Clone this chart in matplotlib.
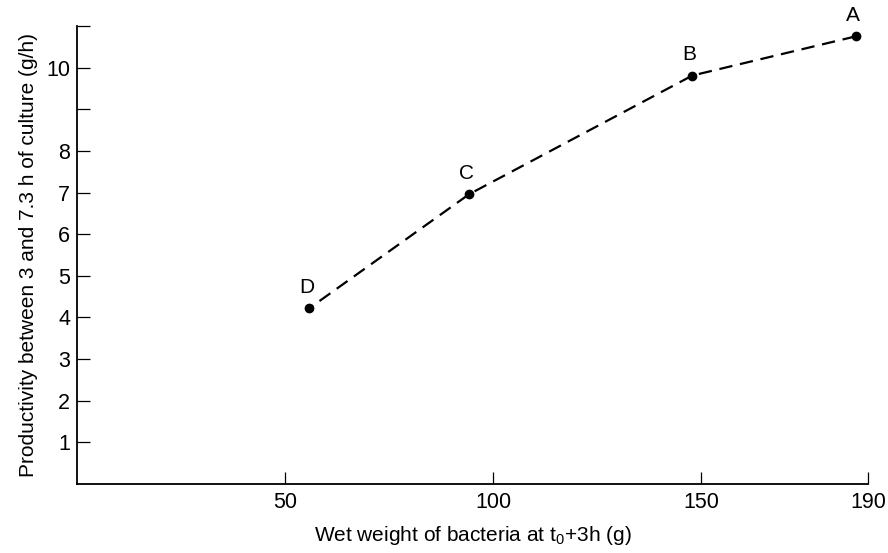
import matplotlib
matplotlib.use('Agg')
import matplotlib.pyplot as plt

plt.rcParams['font.family'] = ['Liberation Sans', 'DejaVu Sans']

labels = ['A', 'B', 'C', 'D']
weight = [187, 147.8, 94.2, 55.8]
productivity = [10.75, 9.81, 6.96, 4.22]

xticks = [50, 100, 150, 190]
yticks = [1, 2, 3, 4, 5, 6, 7, 8, 9, 10, 11]
ylabels = ['1', '2', '3', '4', '5', '6', '7', '8', '', '10', '']

fig = plt.figure(figsize=(8.88, 5.53), dpi=100)
ax = fig.add_axes([0.0867, 0.1248, 0.8908, 0.8282])

ax.plot(weight, productivity, color='black', ls=(0, (6, 3.5)), lw=1.6,
        marker='o', ms=6, mfc='black', mec='black')
for lab, x, y in zip(labels, weight, productivity):
    ax.annotate(lab, (x, y), xytext=(-2, 8), textcoords='offset points',
                ha='center', va='bottom', fontsize=15)

ax.set_xlim(0, 190)
ax.set_ylim(0, 11)
ax.set_xticks(xticks)
ax.set_yticks(yticks)
ax.set_yticklabels(ylabels)
ax.tick_params(direction='in', length=9, width=0.9, labelsize=15.5)
ax.tick_params(axis='x', pad=6)
ax.tick_params(axis='y', pad=5)

for s in ['top', 'right']:
    ax.spines[s].set_visible(False)
for s in ['left', 'bottom']:
    ax.spines[s].set_linewidth(1.3)

ax.set_xlabel('Wet weight of bacteria at t$_\\mathregular{0}$+3h (g)', fontsize=15, labelpad=8)
ax.set_ylabel('Productivity between 3 and 7.3 h of culture (g/h)', fontsize=15, labelpad=6)

fig.savefig('out.png', dpi=100)
